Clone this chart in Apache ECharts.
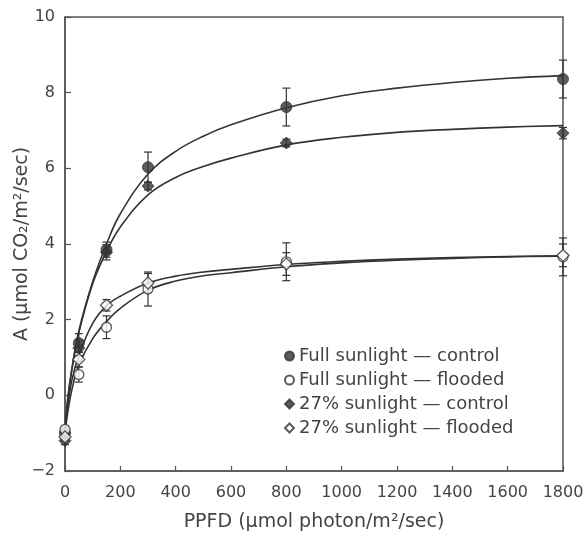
<!DOCTYPE html>
<html>
<head>
<meta charset="utf-8">
<script src="https://cdn.jsdelivr.net/npm/echarts@6/dist/echarts.min.js"></script>
<style>
  html, body { margin: 0; padding: 0; background: #fff; }
  #main { width: 585px; height: 533px; }
</style>
</head>
<body>
<div id="main"></div>
<script>
// measured points (PPFD, A) with +/- error
var ppfd = [0, 50, 150, 300, 800, 1800];
var fullControl = [-1.0, 1.38, 3.85, 6.03, 7.62, 8.36];
var fullControlErr = [0.15, 0.25, 0.2, 0.4, 0.5, 0.5];
var fullFlooded = [-0.9, 0.55, 1.8, 2.81, 3.53, 3.66];
var fullFloodedErr = [0.1, 0.2, 0.3, 0.45, 0.5, 0.5];
var shadeControl = [-1.2, 1.25, 3.78, 5.53, 6.67, 6.93];
var shadeControlErr = [0.1, 0.2, 0.2, 0.1, 0.1, 0.15];
var shadeFlooded = [-1.1, 0.95, 2.38, 2.97, 3.47, 3.7];
var shadeFloodedErr = [0.1, 0.2, 0.15, 0.25, 0.3, 0.3];

// fitted curves
var curveX = [0, 10, 25, 50, 100, 150, 200, 300, 400, 500, 600, 800, 1000, 1200, 1400, 1600, 1800];
var fullControlFit = [-1.0, -0.1, 0.7, 1.7, 3.0, 4.0, 4.8, 5.85, 6.45, 6.85, 7.15, 7.6, 7.92, 8.12, 8.27, 8.38, 8.45];
var shadeControlFit = [-1.0, -0.1, 0.7, 1.65, 2.95, 3.8, 4.45, 5.3, 5.76, 6.05, 6.27, 6.62, 6.82, 6.95, 7.03, 7.09, 7.13];
var shadeFloodedFit = [-1.0, -0.3, 0.4, 1.05, 1.9, 2.37, 2.62, 2.97, 3.15, 3.26, 3.33, 3.46, 3.54, 3.6, 3.64, 3.67, 3.69];
var fullFloodedFit = [-1.0, -0.45, 0.15, 0.8, 1.5, 1.95, 2.3, 2.78, 3.02, 3.16, 3.24, 3.4, 3.5, 3.57, 3.62, 3.66, 3.68];

var seriesNames = ['Full sunlight \u2014 control', 'Full sunlight \u2014 flooded', '27% sunlight \u2014 control', '27% sunlight \u2014 flooded'];

var ink = '#333';
var textInk = '#444';
var font = 'DejaVu Sans, Verdana, sans-serif';

function pairs(xs, ys) {
    return xs.map(function (x, i) { return [x, ys[i]]; });
}
function errData(ys, es) {
    return ppfd.map(function (x, i) { return [x, ys[i] - es[i], ys[i] + es[i]]; });
}
function errSeries(ys, es) {
    return {
        type: 'custom',
        silent: true,
        z: 3,
        data: errData(ys, es),
        renderItem: function (params, api) {
            var lo = api.coord([api.value(0), api.value(1)]);
            var hi = api.coord([api.value(0), api.value(2)]);
            var w = 4;
            var st = { stroke: ink, lineWidth: 1.2 };
            return {
                type: 'group',
                children: [
                    { type: 'line', shape: { x1: lo[0], y1: lo[1], x2: hi[0], y2: hi[1] }, style: st },
                    { type: 'line', shape: { x1: lo[0] - w, y1: lo[1], x2: lo[0] + w, y2: lo[1] }, style: st },
                    { type: 'line', shape: { x1: hi[0] - w, y1: hi[1], x2: hi[0] + w, y2: hi[1] }, style: st }
                ]
            };
        }
    };
}
function fitSeries(ys) {
    return {
        type: 'line',
        data: pairs(curveX, ys),
        showSymbol: false,
        smooth: 0.4,
        silent: true,
        z: 2,
        lineStyle: { color: ink, width: 1.6 }
    };
}
function pointSeries(name, ys, symbol, size, filled) {
    return {
        name: name,
        type: 'scatter',
        data: pairs(ppfd, ys),
        symbol: symbol,
        symbolSize: size,
        z: 4,
        itemStyle: filled
            ? { color: ink, borderColor: ink, borderWidth: 1 }
            : { color: '#fff', borderColor: ink, borderWidth: 1.3 }
    };
}

var myChart = echarts.init(document.getElementById('main'));
var option = {
    animation: false,
    backgroundColor: '#fff',
    grid: {
        left: 65, right: 22, top: 17, bottom: 62,
        outerBoundsMode: 'none',
        show: true,
        borderColor: '#555',
        borderWidth: 1.5
    },
    legend: {
        orient: 'vertical',
        left: 279,
        top: 342,
        itemGap: 6,
        itemWidth: 9,
        itemHeight: 9,
        textStyle: { color: textInk, fontSize: 18, fontFamily: font },
        data: seriesNames
    },
    xAxis: {
        type: 'value',
        min: 0,
        max: 1800,
        interval: 200,
        name: 'PPFD (\u00b5mol photon/m\u00b2/sec)',
        nameLocation: 'middle',
        nameGap: 42,
        nameMoveOverlap: false,
        nameTextStyle: { color: textInk, fontSize: 19, fontFamily: font },
        axisLine: { onZero: false, lineStyle: { color: '#555', width: 1.5 } },
        axisTick: { inside: true, length: 5, lineStyle: { color: '#555', width: 1.2 } },
        axisLabel: {
            color: textInk, fontSize: 16, margin: 14, fontFamily: font,
            formatter: function (v) { return String(v); }
        },
        splitLine: { show: false }
    },
    yAxis: {
        type: 'value',
        min: -2,
        max: 10,
        interval: 2,
        name: 'A (\u00b5mol CO\u2082/m\u00b2/sec)',
        nameLocation: 'middle',
        nameGap: 33,
        nameMoveOverlap: false,
        nameTextStyle: { color: textInk, fontSize: 19, fontFamily: font },
        axisLine: { onZero: false, lineStyle: { color: '#555', width: 1.5 } },
        axisTick: { inside: true, length: 6, lineStyle: { color: '#555', width: 1.2 } },
        axisLabel: {
            color: textInk, fontSize: 16, margin: 10, fontFamily: font,
            formatter: function (v) { return String(v).replace('-', '\u2212'); }
        },
        splitLine: { show: false }
    },
    series: [
        fitSeries(fullControlFit),
        fitSeries(shadeControlFit),
        fitSeries(shadeFloodedFit),
        fitSeries(fullFloodedFit),
        errSeries(fullControl, fullControlErr),
        errSeries(fullFlooded, fullFloodedErr),
        errSeries(shadeControl, shadeControlErr),
        errSeries(shadeFlooded, shadeFloodedErr),
        pointSeries(seriesNames[0], fullControl, 'circle', 11, true),
        pointSeries(seriesNames[1], fullFlooded, 'circle', 10, false),
        pointSeries(seriesNames[2], shadeControl, 'diamond', 12, true),
        pointSeries(seriesNames[3], shadeFlooded, 'diamond', 12, false)
    ]
};
myChart.setOption(option);
</script>
</body>
</html>
